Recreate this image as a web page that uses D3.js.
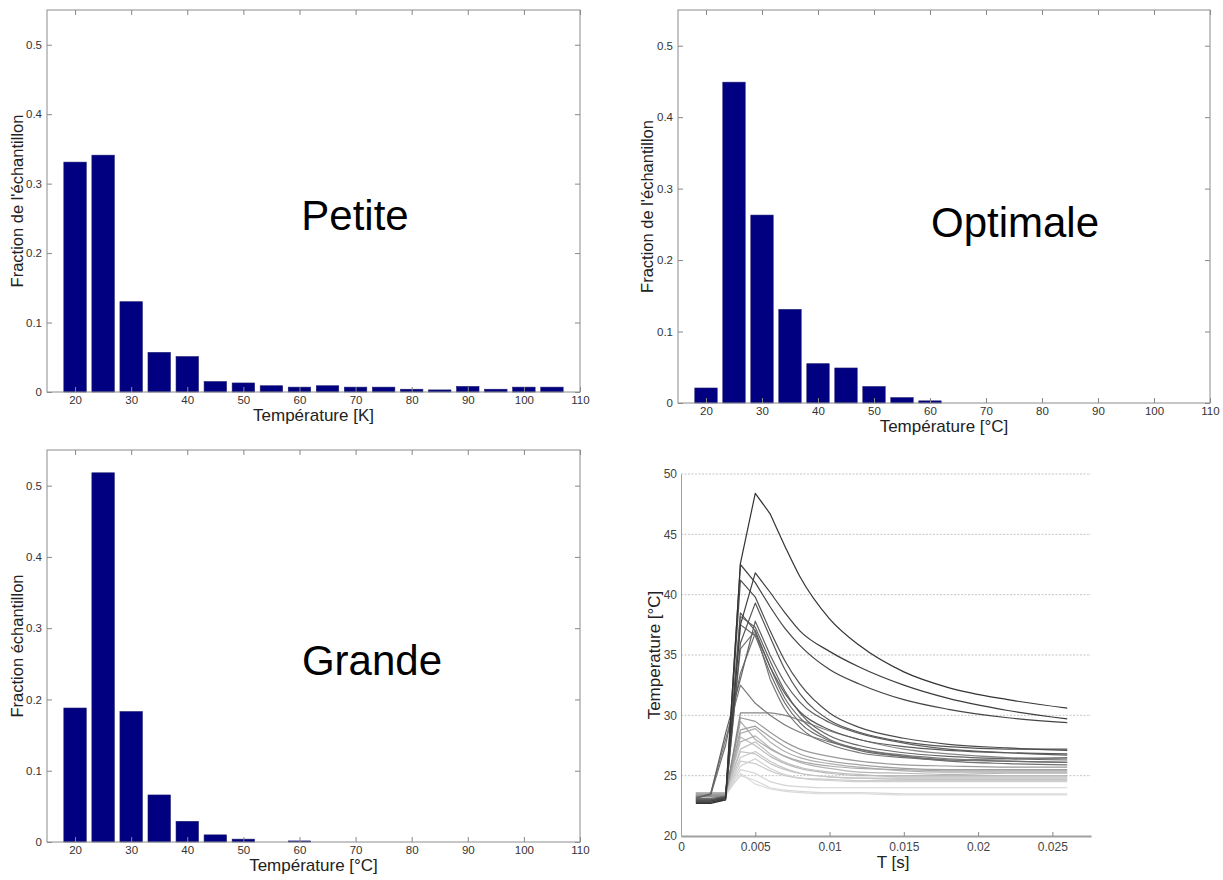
<!DOCTYPE html>
<html><head><meta charset="utf-8">
<script src="https://cdn.jsdelivr.net/npm/d3@7"></script>
<style>
body{margin:0;background:#fff;}
svg{display:block;font-family:"Liberation Sans",Arial,Helvetica,sans-serif;}
</style></head>
<body><svg id="c" width="1223" height="880"></svg>
<script>
// ---------- DATA ----------
const binsPetite = [20,25,30,35,40,45,50,55,60,65,70,75,80,85,90,95,100,105];
const petite = [0.331,0.341,0.130,0.057,0.051,0.015,0.013,0.009,0.007,0.009,0.007,0.007,0.004,0.003,0.008,0.004,0.007,0.007];
const binsOpt = [20,25,30,35,40,45,50,55,60];
const optimale = [0.021,0.449,0.263,0.131,0.055,0.049,0.023,0.0075,0.003];
const binsGrande = [20,25,30,35,40,45,50,55,60];
const grande = [0.188,0.518,0.183,0.066,0.029,0.010,0.004,0.0,0.0015];
const histXTicks = [20,30,40,50,60,70,80,90,100,110];
const histYTicks = [0,0.1,0.2,0.3,0.4,0.5];

// temperature curves (time in ms, temperature in °C)
const timeMs = [1,2,3,4,5,6,7,8,10,12,15,18,22,26];
const curves = [
 [22.7,22.7,23.0,42.6,48.4,46.7,44.0,41.5,38.0,35.8,33.6,32.3,31.3,30.6],
 [22.8,22.8,23.1,37.5,41.8,40.2,38.5,37.0,35.3,34.0,32.5,31.4,30.4,29.7],
 [22.9,22.9,23.2,42.5,41.0,39.0,37.2,35.8,33.8,32.6,31.3,30.5,29.8,29.4],
 [22.8,22.8,23.0,41.2,39.8,37.0,34.5,32.6,30.2,29.0,28.1,27.6,27.3,27.1],
 [22.9,22.9,23.1,36.0,39.3,36.5,33.8,31.8,29.6,28.6,27.8,27.4,27.2,27.2],
 [23.0,23.0,23.2,38.5,37.0,34.0,31.8,30.3,28.8,28.0,27.4,27.1,26.9,26.8],
 [23.1,23.5,28.5,33.0,37.8,35.0,32.7,31.1,29.4,28.5,27.7,27.2,26.9,26.7],
 [23.0,23.0,23.3,38.2,37.3,34.5,32.0,30.2,28.3,27.5,26.9,26.6,26.4,26.3],
 [23.1,23.1,23.3,37.5,36.6,33.5,31.0,29.4,27.9,27.1,26.6,26.3,26.2,26.1],
 [23.2,23.4,27.5,33.5,36.8,34.0,31.4,29.8,28.0,27.2,26.6,26.2,26.0,25.9],
 [23.2,23.5,28.0,32.5,31.0,30.0,29.2,28.6,27.8,27.2,26.7,26.4,26.2,26.1],
 [23.0,23.0,23.2,35.5,37.0,33.0,30.5,29.0,27.6,26.9,26.5,26.3,26.4,26.5],
 [23.3,23.3,23.3,30.2,30.2,30.2,30.0,29.6,28.7,28.0,27.2,26.8,26.5,26.4],
 [23.4,23.4,23.4,29.8,29.5,28.6,27.8,27.2,26.6,26.2,25.9,25.8,25.7,25.7],
 [23.5,23.5,23.5,28.8,29.1,28.2,27.4,26.8,26.2,25.9,25.6,25.5,25.5,25.5],
 [23.3,23.3,23.4,29.5,28.0,27.2,26.6,26.2,25.8,25.6,25.5,25.4,25.4,25.4],
 [23.4,23.4,23.4,28.5,28.9,27.8,27.0,26.5,26.0,25.7,25.4,25.3,25.3,25.3],
 [23.6,23.6,23.6,27.8,28.3,27.3,26.6,26.1,25.6,25.3,25.2,25.1,25.2,25.2],
 [23.2,23.2,23.3,28.2,27.5,26.6,26.0,25.6,25.2,25.0,25.0,25.0,25.0,25.0],
 [23.5,23.5,23.5,27.2,27.8,26.8,26.1,25.7,25.3,25.1,24.9,24.9,24.9,24.9],
 [23.4,23.4,23.5,27.0,26.8,26.0,25.5,25.2,24.9,24.8,24.8,24.8,24.8,24.8],
 [23.6,23.6,23.6,26.5,27.0,26.2,25.6,25.2,24.9,24.8,24.7,24.7,24.7,24.7],
 [23.3,23.3,23.4,26.2,26.0,25.4,25.0,24.8,24.7,24.6,24.6,24.6,24.6,24.6],
 [23.5,23.5,23.5,25.8,26.4,25.6,25.1,24.8,24.6,24.5,24.5,24.5,24.5,24.5],
 [23.4,23.4,23.4,25.5,25.2,24.5,24.2,24.1,24.0,24.0,24.0,24.0,24.0,24.0],
 [23.5,23.5,23.5,25.0,24.6,24.0,23.8,23.7,23.6,23.6,23.5,23.5,23.5,23.5],
 [23.2,23.2,23.3,25.2,24.3,23.9,23.7,23.6,23.5,23.5,23.4,23.4,23.4,23.4]
];
const curveGrays = ["#333","#3d3d3d","#444","#4d4d4d","#555","#5a5a5a","#606060","#666","#6b6b6b","#707070","#7a7a7a","#757575","#888","#999","#a0a0a0","#aaa","#b0b0b0","#b5b5b5","#bbb","#c0c0c0","#c4c4c4","#c8c8c8","#ccc","#d0d0d0","#d4d4d4","#d8d8d8","#dcdcdc"];
const lineXTicks = [0,0.005,0.01,0.015,0.02,0.025];
const lineXTickLabels = ["0","0.005","0.01","0.015","0.02","0.025"];
const lineYTicks = [20,25,30,35,40,45,50];

// ---------- DRAW ----------
const svg = d3.select("#c");

function histPanel(o){
  const g = svg.append("g");
  const x = d3.scaleLinear().domain([15,110]).range([o.x0,o.x1]);
  const y = d3.scaleLinear().domain([0,0.55]).range([o.y1,o.y0]);
  const bw = x(19) - x(15);
  g.selectAll("rect.bar").data(o.centers.map((c,i)=>({c, v:o.values[i]})))
    .join("rect").attr("class","bar")
    .attr("x", d=>x(d.c)-bw/2).attr("width", bw)
    .attr("y", d=>y(d.v)).attr("height", d=>y(0)-y(d.v))
    .attr("fill","#000080").attr("stroke","#1c1c6e").attr("stroke-width",0.6);
  const styleAxis = a => {
    a.select(".domain").remove();
    a.selectAll("line").attr("stroke","#888");
    a.selectAll("text").attr("fill","#333").style("font-size","11.5px");
  };
  g.append("g").attr("transform",`translate(0,${o.y1})`)
    .call(d3.axisBottom(x).tickValues(histXTicks).tickSize(-5).tickPadding(4).tickFormat(d3.format("d")))
    .call(styleAxis);
  g.append("g").attr("transform",`translate(0,${o.y0})`)
    .call(d3.axisTop(x).tickValues(histXTicks).tickSize(-5).tickFormat(""))
    .call(styleAxis);
  g.append("g").attr("transform",`translate(${o.x0},0)`)
    .call(d3.axisLeft(y).tickValues(histYTicks).tickSize(-5).tickPadding(5).tickFormat(d=>d===0?"0":d3.format(".1f")(d)))
    .call(styleAxis);
  g.append("g").attr("transform",`translate(${o.x1},0)`)
    .call(d3.axisRight(y).tickValues(histYTicks).tickSize(-5).tickFormat(""))
    .call(styleAxis);
  g.append("rect").attr("x",o.x0).attr("y",o.y0).attr("width",o.x1-o.x0).attr("height",o.y1-o.y0)
    .attr("fill","none").attr("stroke","#8c8c8c").attr("stroke-width",1);
  g.append("text").attr("x",(o.x0+o.x1)/2).attr("y",o.xlabelY).attr("text-anchor","middle")
    .attr("fill","#222").style("font-size","17px").text(o.xlabel);
  g.append("text").attr("transform",`translate(${o.ylabelX},${(o.y0+o.y1)/2}) rotate(-90)`)
    .attr("text-anchor","middle").attr("fill","#222").style("font-size","16.5px").text(o.ylabel);
  g.append("text").attr("x",o.titleX).attr("y",o.titleY).attr("text-anchor","middle")
    .attr("fill","#000").style("font-size","42px").text(o.title);
}

histPanel({x0:47,x1:580,y0:10,y1:392,centers:binsPetite,values:petite,
  xlabel:"Température [K]",xlabelY:421,ylabel:"Fraction de l'échantillon",ylabelX:23,
  title:"Petite",titleX:355,titleY:230});
histPanel({x0:678,x1:1210,y0:10,y1:403,centers:binsOpt,values:optimale,
  xlabel:"Température [°C]",xlabelY:432,ylabel:"Fraction de l'échantillon",ylabelX:653,
  title:"Optimale",titleX:1015,titleY:237});
histPanel({x0:47,x1:580,y0:450,y1:842,centers:binsGrande,values:grande,
  xlabel:"Température [°C]",xlabelY:871,ylabel:"Fraction échantillon",ylabelX:23,
  title:"Grande",titleX:372,titleY:675});

// line panel
(function(){
  const x0=681,x1=1091,y0=474,y1=836;
  const g = svg.append("g");
  const x = d3.scaleLinear().domain([0,0.0276]).range([x0,x1]);
  const y = d3.scaleLinear().domain([20,50]).range([y1,y0]);
  g.selectAll("line.grid").data(lineYTicks.filter(v=>v>20)).join("line").attr("class","grid")
    .attr("x1",x0).attr("x2",x1).attr("y1",d=>y(d)).attr("y2",d=>y(d))
    .attr("stroke","#c4c4c4").attr("stroke-width",1).attr("stroke-dasharray","2,1.5");
  const pts = c => c.map((v,i)=>[x(timeMs[i]/1000), y(v)]);
  const lin = d3.line().curve(d3.curveLinear);
  const smooth = d3.line().curve(d3.curveMonotoneX);
  const pathFor = c => { const p = pts(c); return lin(p.slice(0,6)) + smooth(p.slice(5)); };
  const order = curves.map((c,i)=>i).reverse();
  g.selectAll("path.curve").data(order).join("path").attr("class","curve")
    .attr("d", i=>pathFor(curves[i])).attr("fill","none")
    .attr("stroke", i=>curveGrays[i]).attr("stroke-width",1.2).attr("stroke-linejoin","round");
  const sty = a => {
    a.select(".domain").attr("stroke","#a0a0a0");
    a.selectAll(".tick line").attr("stroke","#888");
    a.selectAll("text").attr("fill","#444").style("font-size","12px");
  };
  g.append("g").attr("transform",`translate(0,${y1})`)
    .call(d3.axisBottom(x).tickValues(lineXTicks).tickSize(-4).tickSizeOuter(0).tickPadding(6)
      .tickFormat((d,i)=>lineXTickLabels[i]))
    .call(sty).call(a=>a.select(".domain").attr("stroke-width",2));
  g.append("g").attr("transform",`translate(${x0},0)`)
    .call(d3.axisLeft(y).tickValues(lineYTicks).tickSize(0).tickSizeOuter(0).tickPadding(4))
    .call(sty);
  g.append("text").attr("x",893).attr("y",868).attr("text-anchor","middle")
    .attr("fill","#222").style("font-size","17px").text("T [s]");
  g.append("text").attr("transform",`translate(660,${(y0+y1)/2}) rotate(-90)`)
    .attr("text-anchor","middle").attr("fill","#222").style("font-size","17px").text("Temperature [°C]");
})();
</script></body></html>
